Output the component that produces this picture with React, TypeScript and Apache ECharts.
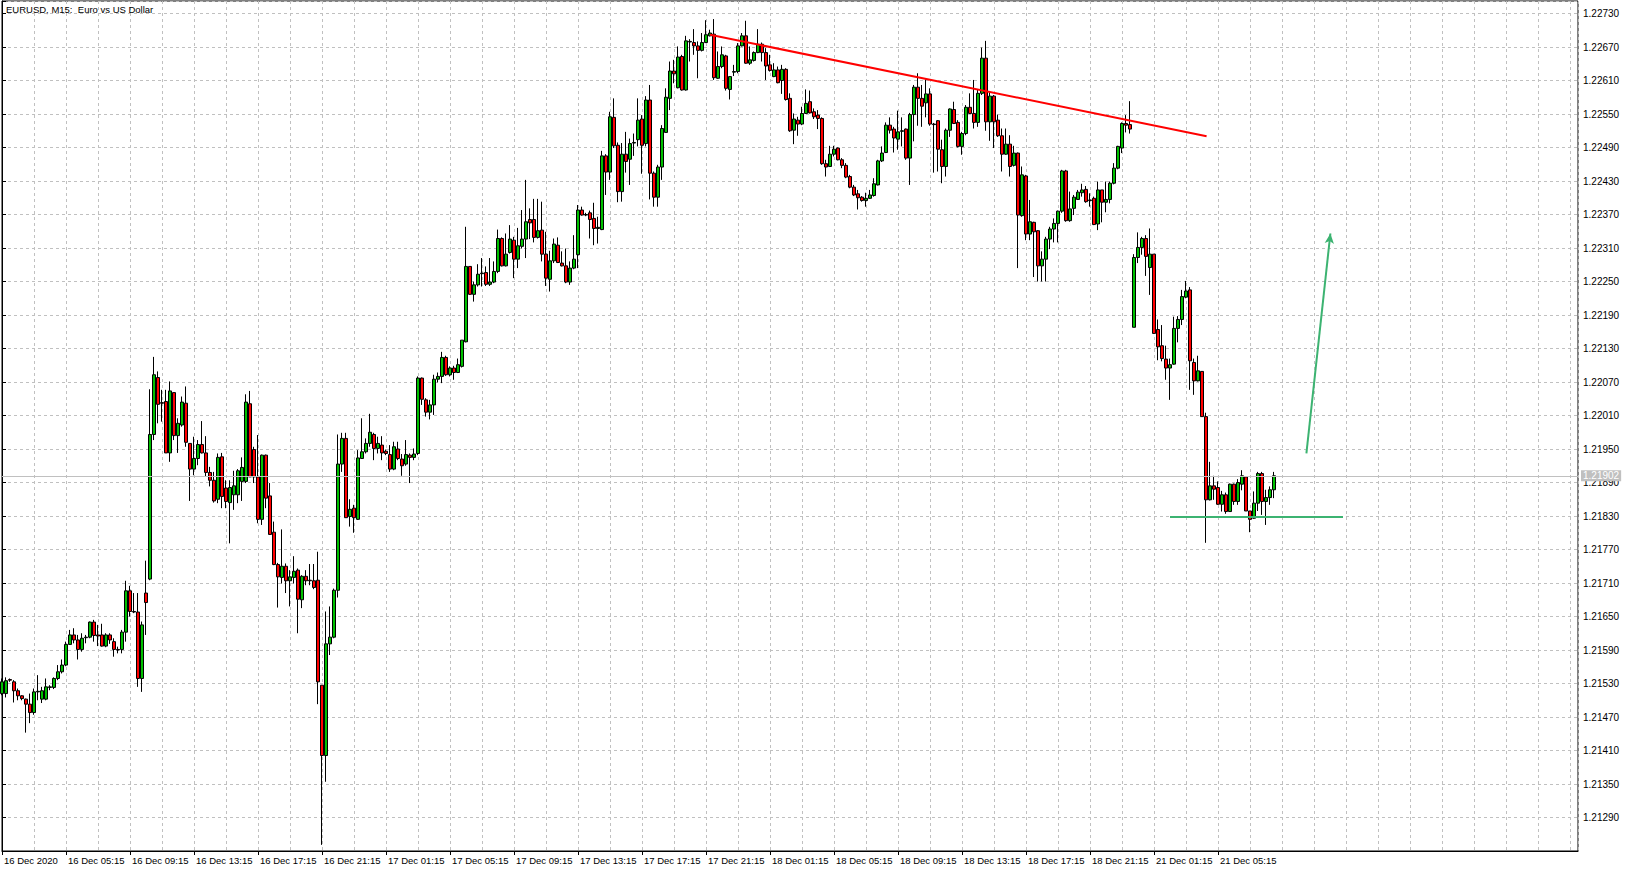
import React, { useEffect, useRef } from 'react';
import * as echarts from 'echarts';

// 15-minute EURUSD bars, bar 0 = 16 Dec 2020 01:15 (weekend gap after bar 282)
const opens = [
  1.21512, 1.21512, 1.21537, 1.21533, 1.21517, 1.21508, 1.21502, 1.21493, 1.21478, 1.21515,
  1.21502, 1.21502, 1.21523, 1.21523, 1.21539, 1.21551, 1.21563, 1.21600, 1.21617, 1.21608,
  1.21591, 1.21612, 1.21613, 1.21640, 1.21617, 1.21617, 1.21597, 1.21617, 1.21605, 1.21591,
  1.21591, 1.21622, 1.21696, 1.21659, 1.21658, 1.21539, 1.21692, 1.21717, 1.21976, 1.22078,
  1.22033, 1.22035, 1.21943, 1.22051, 1.21974, 1.21993, 1.22032, 1.21960, 1.21914, 1.21933,
  1.21958, 1.21943, 1.21908, 1.21894, 1.21860, 1.21936, 1.21880, 1.21854, 1.21868, 1.21868,
  1.21892, 1.21892, 1.22031, 1.21949, 1.21900, 1.21824, 1.21939, 1.21866, 1.21801, 1.21743,
  1.21720, 1.21740, 1.21714, 1.21720, 1.21733, 1.21680, 1.21722, 1.21715, 1.21714, 1.21715,
  1.21527, 1.21401, 1.21601, 1.21613, 1.21697, 1.21923, 1.21969, 1.21829, 1.21844, 1.21824,
  1.21933, 1.21945, 1.21960, 1.21976, 1.21951, 1.21957, 1.21946, 1.21940, 1.21914, 1.21950,
  1.21932, 1.21923, 1.21939, 1.21935, 1.21942, 1.22077, 1.22038, 1.22016, 1.22029, 1.22075,
  1.22080, 1.22114, 1.22083, 1.22095, 1.22087, 1.22098, 1.22142, 1.22277, 1.22227, 1.22244,
  1.22264, 1.22266, 1.22245, 1.22249, 1.22268, 1.22327, 1.22278, 1.22302, 1.22324, 1.22290,
  1.22313, 1.22326, 1.22361, 1.22361, 1.22329, 1.22342, 1.22299, 1.22254, 1.22287, 1.22315,
  1.22283, 1.22278, 1.22249, 1.22274, 1.22298, 1.22378, 1.22369, 1.22373, 1.22363, 1.22345,
  1.22343, 1.22475, 1.22446, 1.22544, 1.22494, 1.22411, 1.22478, 1.22469, 1.22498, 1.22504,
  1.22541, 1.22497, 1.22575, 1.22444, 1.22401, 1.22455, 1.22517, 1.22578, 1.22627, 1.22597,
  1.22653, 1.22593, 1.22680, 1.22678, 1.22672, 1.22664, 1.22678, 1.22690, 1.22693, 1.22614,
  1.22635, 1.22654, 1.22594, 1.22625, 1.22626, 1.22672, 1.22690, 1.22641, 1.22646, 1.22660,
  1.22675, 1.22660, 1.22638, 1.22617, 1.22629, 1.22610, 1.22630, 1.22578, 1.22521, 1.22539,
  1.22532, 1.22551, 1.22572, 1.22554, 1.22548, 1.22542, 1.22461, 1.22456, 1.22478, 1.22489,
  1.22468, 1.22458, 1.22438, 1.22419, 1.22407, 1.22401, 1.22395, 1.22399, 1.22404, 1.22423,
  1.22466, 1.22481, 1.22530, 1.22523, 1.22505, 1.22519, 1.22523, 1.22471, 1.22549, 1.22598,
  1.22578, 1.22570, 1.22586, 1.22532, 1.22538, 1.22486, 1.22456, 1.22521, 1.22558, 1.22535,
  1.22492, 1.22515, 1.22562, 1.22551, 1.22535, 1.22587, 1.22650, 1.22536, 1.22582, 1.22539,
  1.22511, 1.22478, 1.22496, 1.22458, 1.22480, 1.22368, 1.22439, 1.22335, 1.22356, 1.22341,
  1.22278, 1.22290, 1.22326, 1.22344, 1.22354, 1.22376, 1.22448, 1.22359, 1.22381, 1.22397,
  1.22409, 1.22415, 1.22396, 1.22399, 1.22353, 1.22414, 1.22392, 1.22397, 1.22426, 1.22453,
  1.22489, 1.22533, 1.22531, 1.22168, 1.22293, 1.22311, 1.22327, 1.22275, 1.22299, 1.22164,
  1.22135, 1.22111, 1.22095, 1.22102, 1.22166, 1.22182, 1.22222, 1.22235, 1.22105, 1.22072,
  1.22089, 1.22008, 1.21859, 1.21884, 1.21881, 1.21851, 1.21868, 1.21838, 1.21887, 1.21856,
  1.21887, 1.21900, 1.21839, 1.21826, 1.21853, 1.21906, 1.21856, 1.21863, 1.21877,
];

const highs = [
  1.21539, 1.21541, 1.21539, 1.21536, 1.21521, 1.21509, 1.21503, 1.21512, 1.21521, 1.21545,
  1.21524, 1.21539, 1.21527, 1.21541, 1.21563, 1.21573, 1.21605, 1.21626, 1.21629, 1.21617,
  1.21620, 1.21617, 1.21641, 1.21644, 1.21635, 1.21637, 1.21620, 1.21620, 1.21611, 1.21596,
  1.21626, 1.21714, 1.21705, 1.21692, 1.21692, 1.21641, 1.21750, 1.22057, 1.22115, 1.22089,
  1.22056, 1.22056, 1.22071, 1.22051, 1.22005, 1.22044, 1.22062, 1.21960, 1.21972, 1.21966,
  1.22000, 1.21973, 1.21918, 1.21909, 1.21942, 1.21943, 1.21894, 1.21894, 1.21911, 1.21914,
  1.21935, 1.22048, 1.22054, 1.21954, 1.21975, 1.21940, 1.21940, 1.21889, 1.21820, 1.21746,
  1.21806, 1.21745, 1.21733, 1.21758, 1.21736, 1.21724, 1.21733, 1.21744, 1.21744, 1.21766,
  1.21527, 1.21659, 1.21668, 1.21700, 1.21976, 1.21979, 1.21979, 1.21860, 1.21850, 1.21948,
  1.22005, 1.21969, 1.22013, 1.21979, 1.21972, 1.21973, 1.21949, 1.21957, 1.21963, 1.21963,
  1.21941, 1.21966, 1.21942, 1.21951, 1.22080, 1.22078, 1.22041, 1.22038, 1.22083, 1.22087,
  1.22124, 1.22117, 1.22098, 1.22099, 1.22112, 1.22145, 1.22348, 1.22277, 1.22250, 1.22281,
  1.22292, 1.22277, 1.22292, 1.22286, 1.22343, 1.22329, 1.22336, 1.22351, 1.22330, 1.22346,
  1.22378, 1.22432, 1.22381, 1.22398, 1.22398, 1.22393, 1.22339, 1.22305, 1.22327, 1.22329,
  1.22304, 1.22309, 1.22286, 1.22333, 1.22387, 1.22384, 1.22373, 1.22377, 1.22391, 1.22366,
  1.22484, 1.22478, 1.22554, 1.22578, 1.22499, 1.22498, 1.22518, 1.22506, 1.22515, 1.22578,
  1.22548, 1.22582, 1.22602, 1.22447, 1.22459, 1.22530, 1.22596, 1.22644, 1.22647, 1.22671,
  1.22656, 1.22690, 1.22684, 1.22702, 1.22680, 1.22695, 1.22718, 1.22701, 1.22720, 1.22662,
  1.22671, 1.22656, 1.22618, 1.22638, 1.22677, 1.22695, 1.22717, 1.22671, 1.22662, 1.22702,
  1.22678, 1.22668, 1.22656, 1.22641, 1.22635, 1.22638, 1.22632, 1.22587, 1.22551, 1.22545,
  1.22563, 1.22594, 1.22592, 1.22560, 1.22557, 1.22544, 1.22468, 1.22493, 1.22493, 1.22490,
  1.22471, 1.22462, 1.22441, 1.22423, 1.22414, 1.22403, 1.22409, 1.22414, 1.22435, 1.22468,
  1.22492, 1.22535, 1.22544, 1.22527, 1.22556, 1.22544, 1.22524, 1.22552, 1.22602, 1.22623,
  1.22602, 1.22612, 1.22596, 1.22534, 1.22539, 1.22504, 1.22524, 1.22560, 1.22572, 1.22539,
  1.22518, 1.22566, 1.22587, 1.22611, 1.22593, 1.22669, 1.22681, 1.22590, 1.22584, 1.22549,
  1.22524, 1.22524, 1.22512, 1.22493, 1.22481, 1.22456, 1.22441, 1.22396, 1.22357, 1.22342,
  1.22304, 1.22330, 1.22348, 1.22363, 1.22377, 1.22450, 1.22450, 1.22411, 1.22405, 1.22414,
  1.22425, 1.22421, 1.22408, 1.22402, 1.22429, 1.22414, 1.22429, 1.22429, 1.22462, 1.22493,
  1.22535, 1.22548, 1.22573, 1.22299, 1.22338, 1.22330, 1.22333, 1.22345, 1.22299, 1.22182,
  1.22172, 1.22135, 1.22112, 1.22187, 1.22188, 1.22235, 1.22251, 1.22240, 1.22112, 1.22117,
  1.22089, 1.22015, 1.21927, 1.21902, 1.21892, 1.21875, 1.21872, 1.21888, 1.21888, 1.21896,
  1.21912, 1.21900, 1.21839, 1.21874, 1.21909, 1.21909, 1.21877, 1.21883, 1.21909,
];

const lows = [
  1.21509, 1.21505, 1.21533, 1.21496, 1.21500, 1.21500, 1.21442, 1.21459, 1.21474, 1.21500,
  1.21495, 1.21500, 1.21518, 1.21520, 1.21536, 1.21548, 1.21561, 1.21599, 1.21602, 1.21573,
  1.21587, 1.21602, 1.21611, 1.21605, 1.21597, 1.21596, 1.21595, 1.21601, 1.21578, 1.21584,
  1.21584, 1.21605, 1.21650, 1.21656, 1.21524, 1.21515, 1.21617, 1.21715, 1.21966, 1.21996,
  1.21999, 1.21943, 1.21927, 1.21966, 1.21943, 1.21990, 1.21954, 1.21857, 1.21903, 1.21921,
  1.21942, 1.21900, 1.21883, 1.21854, 1.21853, 1.21844, 1.21844, 1.21781, 1.21841, 1.21853,
  1.21857, 1.21889, 1.21900, 1.21889, 1.21817, 1.21814, 1.21844, 1.21796, 1.21742, 1.21666,
  1.21709, 1.21692, 1.21668, 1.21709, 1.21620, 1.21665, 1.21706, 1.21706, 1.21699, 1.21493,
  1.21241, 1.21354, 1.21581, 1.21611, 1.21684, 1.21909, 1.21827, 1.21811, 1.21800, 1.21823,
  1.21933, 1.21942, 1.21954, 1.21930, 1.21942, 1.21930, 1.21939, 1.21909, 1.21912, 1.21930,
  1.21902, 1.21920, 1.21889, 1.21930, 1.21939, 1.22029, 1.22008, 1.22003, 1.22011, 1.22069,
  1.22068, 1.22081, 1.22080, 1.22074, 1.22086, 1.22096, 1.22141, 1.22226, 1.22214, 1.22241,
  1.22241, 1.22242, 1.22242, 1.22247, 1.22265, 1.22277, 1.22277, 1.22300, 1.22256, 1.22274,
  1.22309, 1.22292, 1.22326, 1.22320, 1.22327, 1.22286, 1.22242, 1.22232, 1.22283, 1.22283,
  1.22277, 1.22247, 1.22244, 1.22272, 1.22274, 1.22368, 1.22367, 1.22327, 1.22315, 1.22318,
  1.22342, 1.22405, 1.22432, 1.22489, 1.22392, 1.22393, 1.22445, 1.22423, 1.22475, 1.22492,
  1.22443, 1.22492, 1.22397, 1.22384, 1.22384, 1.22432, 1.22516, 1.22557, 1.22605, 1.22596,
  1.22592, 1.22592, 1.22644, 1.22656, 1.22614, 1.22662, 1.22677, 1.22689, 1.22611, 1.22613,
  1.22632, 1.22592, 1.22576, 1.22618, 1.22623, 1.22671, 1.22640, 1.22638, 1.22644, 1.22659,
  1.22644, 1.22611, 1.22626, 1.22616, 1.22605, 1.22586, 1.22574, 1.22518, 1.22496, 1.22511,
  1.22530, 1.22550, 1.22551, 1.22541, 1.22523, 1.22459, 1.22438, 1.22455, 1.22474, 1.22467,
  1.22453, 1.22435, 1.22417, 1.22403, 1.22379, 1.22393, 1.22384, 1.22398, 1.22402, 1.22422,
  1.22464, 1.22480, 1.22515, 1.22481, 1.22486, 1.22492, 1.22468, 1.22423, 1.22501, 1.22529,
  1.22527, 1.22544, 1.22529, 1.22445, 1.22447, 1.22426, 1.22438, 1.22509, 1.22532, 1.22490,
  1.22477, 1.22512, 1.22550, 1.22524, 1.22527, 1.22584, 1.22520, 1.22502, 1.22489, 1.22509,
  1.22447, 1.22477, 1.22438, 1.22456, 1.22274, 1.22366, 1.22324, 1.22324, 1.22258, 1.22250,
  1.22250, 1.22250, 1.22308, 1.22320, 1.22320, 1.22373, 1.22357, 1.22357, 1.22369, 1.22396,
  1.22402, 1.22391, 1.22384, 1.22351, 1.22342, 1.22356, 1.22374, 1.22390, 1.22424, 1.22451,
  1.22480, 1.22517, 1.22515, 1.22168, 1.22283, 1.22298, 1.22260, 1.22226, 1.22156, 1.22109,
  1.22107, 1.22074, 1.22038, 1.22101, 1.22141, 1.22172, 1.22220, 1.22056, 1.22047, 1.22071,
  1.22008, 1.21782, 1.21858, 1.21859, 1.21850, 1.21838, 1.21834, 1.21838, 1.21850, 1.21850,
  1.21876, 1.21839, 1.21801, 1.21825, 1.21839, 1.21832, 1.21814, 1.21850, 1.21862,
];

const closes = [
  1.21533, 1.21535, 1.21536, 1.21517, 1.21508, 1.21503, 1.21493, 1.21478, 1.21515, 1.21516,
  1.21517, 1.21524, 1.21524, 1.21539, 1.21551, 1.21563, 1.21600, 1.21617, 1.21608, 1.21591,
  1.21611, 1.21613, 1.21640, 1.21616, 1.21615, 1.21597, 1.21617, 1.21608, 1.21591, 1.21590,
  1.21622, 1.21696, 1.21659, 1.21658, 1.21539, 1.21635, 1.21675, 1.21976, 1.22083, 1.22030,
  1.22032, 1.21943, 1.22054, 1.21974, 1.21996, 1.22034, 1.21962, 1.21914, 1.21933, 1.21958,
  1.21943, 1.21908, 1.21894, 1.21857, 1.21935, 1.21865, 1.21856, 1.21881, 1.21884, 1.21911,
  1.21917, 1.22034, 1.21900, 1.21900, 1.21824, 1.21939, 1.21862, 1.21797, 1.21743, 1.21721,
  1.21740, 1.21714, 1.21721, 1.21731, 1.21681, 1.21722, 1.21714, 1.21714, 1.21702, 1.21533,
  1.21401, 1.21601, 1.21613, 1.21697, 1.21923, 1.21969, 1.21827, 1.21842, 1.21827, 1.21934,
  1.21945, 1.21960, 1.21980, 1.21951, 1.21960, 1.21943, 1.21942, 1.21914, 1.21954, 1.21933,
  1.21920, 1.21940, 1.21935, 1.21941, 1.22077, 1.22039, 1.22016, 1.22029, 1.22075, 1.22080,
  1.22114, 1.22083, 1.22095, 1.22087, 1.22101, 1.22145, 1.22277, 1.22227, 1.22244, 1.22263,
  1.22265, 1.22245, 1.22249, 1.22268, 1.22327, 1.22278, 1.22299, 1.22326, 1.22290, 1.22314,
  1.22326, 1.22357, 1.22355, 1.22329, 1.22341, 1.22299, 1.22256, 1.22287, 1.22317, 1.22284,
  1.22278, 1.22249, 1.22274, 1.22290, 1.22378, 1.22369, 1.22370, 1.22361, 1.22345, 1.22347,
  1.22475, 1.22446, 1.22545, 1.22493, 1.22411, 1.22478, 1.22465, 1.22497, 1.22499, 1.22539,
  1.22494, 1.22575, 1.22444, 1.22401, 1.22455, 1.22524, 1.22580, 1.22627, 1.22622, 1.22652,
  1.22593, 1.22681, 1.22679, 1.22672, 1.22664, 1.22678, 1.22692, 1.22695, 1.22615, 1.22635,
  1.22656, 1.22596, 1.22617, 1.22626, 1.22672, 1.22690, 1.22641, 1.22647, 1.22660, 1.22675,
  1.22660, 1.22636, 1.22628, 1.22629, 1.22606, 1.22630, 1.22576, 1.22520, 1.22541, 1.22532,
  1.22551, 1.22569, 1.22552, 1.22545, 1.22542, 1.22461, 1.22455, 1.22478, 1.22487, 1.22468,
  1.22458, 1.22437, 1.22419, 1.22405, 1.22400, 1.22395, 1.22399, 1.22405, 1.22425, 1.22466,
  1.22480, 1.22530, 1.22521, 1.22507, 1.22518, 1.22520, 1.22471, 1.22549, 1.22598, 1.22578,
  1.22564, 1.22586, 1.22532, 1.22531, 1.22487, 1.22456, 1.22521, 1.22559, 1.22533, 1.22492,
  1.22515, 1.22562, 1.22551, 1.22535, 1.22587, 1.22650, 1.22536, 1.22582, 1.22536, 1.22511,
  1.22478, 1.22496, 1.22456, 1.22480, 1.22369, 1.22441, 1.22335, 1.22357, 1.22339, 1.22278,
  1.22290, 1.22326, 1.22344, 1.22354, 1.22376, 1.22448, 1.22359, 1.22380, 1.22401, 1.22410,
  1.22414, 1.22393, 1.22395, 1.22352, 1.22414, 1.22392, 1.22397, 1.22426, 1.22453, 1.22492,
  1.22533, 1.22530, 1.22523, 1.22293, 1.22311, 1.22327, 1.22295, 1.22299, 1.22157, 1.22133,
  1.22112, 1.22095, 1.22101, 1.22166, 1.22182, 1.22223, 1.22233, 1.22108, 1.22072, 1.22090,
  1.22008, 1.21859, 1.21884, 1.21878, 1.21851, 1.21868, 1.21838, 1.21887, 1.21856, 1.21890,
  1.21902, 1.21839, 1.21824, 1.21853, 1.21906, 1.21856, 1.21863, 1.21877, 1.21902,
];

// time-axis labels (bar index -> text)
const xTickBars = [0, 16, 32, 48, 64, 80, 96, 112, 128, 144, 160, 176, 192, 208, 224, 240, 256, 272, 288, 304];
const xTickLabels = [
  '16 Dec 2020', '16 Dec 05:15', '16 Dec 09:15', '16 Dec 13:15', '16 Dec 17:15', '16 Dec 21:15',
  '17 Dec 01:15', '17 Dec 05:15', '17 Dec 09:15', '17 Dec 13:15', '17 Dec 17:15', '17 Dec 21:15',
  '18 Dec 01:15', '18 Dec 05:15', '18 Dec 09:15', '18 Dec 13:15', '18 Dec 17:15', '18 Dec 21:15',
  '21 Dec 01:15', '21 Dec 05:15',
];
const totalSlots = 394; // visible bar slots incl. chart shift
const priceMin = 1.2123;
const priceMax = 1.2275239;
const priceStep = 0.0006;
const lastPrice = 1.21902;

// drawn objects (bar index, price)
const resistanceLine = [[177, 1.22692], [301.15, 1.2251]];
const supportLine = [[292, 1.21829], [335.25, 1.21829]];
const arrowLine = [[326.1, 1.21942], [332.1, 1.22336]];

const FONT = "'Liberation Sans', Arial, sans-serif";

export default function App() {
  const ref = useRef<HTMLDivElement>(null);
  useEffect(() => {
    const chart = echarts.init(ref.current as HTMLDivElement, null, { renderer: 'svg' });
    const candles = opens.map((o, i) => [i, o, closes[i], lows[i], highs[i]]);
    const labelMap: Record<number, string> = {};
    xTickBars.forEach((b, i) => { labelMap[b] = xTickLabels[i]; });
    const grid = { left: 2, top: 1, width: 1576, height: 850 };
    const option: any = {
      animation: false,
      backgroundColor: '#ffffff',
      textStyle: { fontFamily: FONT },
      title: {
        text: 'EURUSD, M15:\u00a0 Euro vs US Dollar',
        left: 6, top: 4, padding: 0,
        textStyle: { fontSize: 9.5, fontWeight: 'normal', color: '#000', fontFamily: FONT },
      },
      grid: { ...grid, show: true, borderColor: '#000', borderWidth: 1, containLabel: false, outerBoundsMode: 'none' },
      xAxis: [
        {
          type: 'value', min: 0, max: totalSlots, interval: 8,
          axisLine: { show: true, lineStyle: { color: '#000', width: 1 } },
          axisTick: { show: false }, axisLabel: { show: false },
          splitLine: { show: true, lineStyle: { color: '#c0c0c0', type: [3, 3], width: 1 } },
        },
        {
          type: 'value', min: 0, max: totalSlots, position: 'bottom', offset: 0,
          axisLine: { show: false },
          axisTick: { show: true, customValues: xTickBars, length: 4, lineStyle: { color: '#000' } },
          axisLabel: {
            show: true, customValues: xTickBars, align: 'left', margin: 4, padding: [0, 0, 0, 2],
            fontSize: 9.5, color: '#000', fontFamily: FONT,
            formatter: (v: number) => labelMap[Math.round(v)] || '',
          },
          splitLine: { show: false },
        },
      ],
      yAxis: {
        type: 'value', position: 'right', min: priceMin, max: priceMax, interval: priceStep, scale: true,
        axisLine: { show: true, lineStyle: { color: '#000', width: 1 } },
        axisTick: { show: true, length: 4, lineStyle: { color: '#000' } },
        axisLabel: {
          margin: 5, fontSize: 10, color: '#000', fontFamily: FONT,
          formatter: (v: number) => (v < 1.21289 || v > 1.22731 ? '' : v.toFixed(5)),
        },
        splitLine: { show: true, lineStyle: { color: '#c0c0c0', type: [3, 3], width: 1 } },
      },
      series: [
        {
          type: 'candlestick',
          xAxisIndex: 0, yAxisIndex: 0,
          data: candles,
          barWidth: 3,
          clip: true,
          itemStyle: {
            color: '#00c000', color0: '#ff0000',
            borderColor: '#000', borderColor0: '#000', borderColorDoji: '#000', borderWidth: 1,
          },
          markLine: {
            silent: true, animation: false, symbol: ['none', 'none'],
            data: [
              [
                {
                  coord: [0, lastPrice],
                  lineStyle: { color: '#c0c0c0', type: 'solid', width: 1 },
                  label: {
                    show: true, position: 'end', formatter: lastPrice.toFixed(5), distance: 3,
                    backgroundColor: '#c0c0c0', color: '#ffffff', padding: [1, 2, 0, 2], fontSize: 10, fontFamily: FONT,
                  },
                },
                { coord: [totalSlots, lastPrice] },
              ],
              [
                { coord: resistanceLine[0], lineStyle: { color: '#ff0000', width: 2, type: 'solid' }, label: { show: false } },
                { coord: resistanceLine[1] },
              ],
              [
                { coord: supportLine[0], lineStyle: { color: '#3cb371', width: 2, type: 'solid' }, label: { show: false } },
                { coord: supportLine[1] },
              ],
              [
                { coord: arrowLine[0], symbol: 'none', lineStyle: { color: '#3cb371', width: 2, type: 'solid' }, label: { show: false } },
                { coord: arrowLine[1], symbol: 'arrow', symbolSize: [7, 10] },
              ],
            ],
          },
        },
      ],
    };
    chart.setOption(option);
    return () => chart.dispose();
  }, []);
  return (
    <div
      ref={ref}
      style={{ position: 'fixed', left: 0, top: 0, width: 1631, height: 872, background: '#fff' }}
    />
  );
}
